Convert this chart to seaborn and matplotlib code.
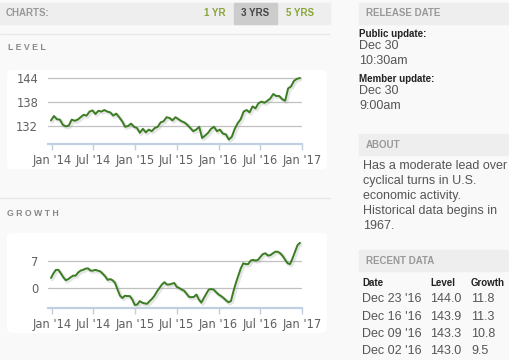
import pandas as pd
import matplotlib
matplotlib.use("Agg")
import matplotlib.pyplot as plt
import matplotlib.patheffects as pe
from matplotlib.patches import Rectangle, FancyBboxPatch
import seaborn as sns

# Level, bi-weekly readings
level = [133.4, 134.5, 133.7, 133.6, 132.3, 131.9, 132.1, 133.6, 133.3, 133.6,
         134.2, 134.8, 134.6, 135.6, 135.9, 135.0, 135.8, 135.6, 136.0, 135.6,
         135.4, 134.6, 135.1, 134.2, 133.2, 131.8, 132.0, 132.6, 131.8, 131.5,
         130.3, 131.3, 130.4, 131.1, 130.7, 131.5, 131.8, 132.9, 133.2, 134.2,
         134.0, 133.4, 134.2, 133.7, 133.2, 132.9, 132.3, 131.5, 130.7, 131.1,
         131.8, 129.0, 129.6, 130.3, 131.3, 131.8, 130.7, 131.1, 130.1, 129.9,
         128.6, 129.3, 131.3, 132.7, 133.7, 135.6, 136.0, 135.4, 136.9, 136.4,
         137.7, 138.1, 137.8, 138.3, 138.9, 140.0, 139.5, 139.5, 138.7, 138.3,
         141.4, 141.9, 143.3, 143.8, 144.0]

# Growth (%)
growth = [2.6, 3.8, 4.7, 4.7, 3.8, 2.8, 2.0, 2.3, 2.8, 3.2,
          3.2, 4.0, 4.5, 4.7, 5.0, 5.1, 4.5, 4.5, 4.7, 4.5,
          4.3, 3.7, 3.0, 2.1, 2.3, 2.0, 1.3, -0.4, -2.0, -2.6,
          -2.0, -2.1, -2.1, -3.0, -4.4, -4.3, -3.4, -3.8, -4.0, -4.1,
          -3.4, -2.8, -2.0, -0.9, 0.0, 0.9, 1.5, 0.9, 0.9, 1.1,
          1.3, 0.3, 0.0, -0.4, -0.7, -1.5, -2.3, -2.4, -2.3, -1.7,
          -3.0, -3.8, -2.6, -1.5, -0.4, -0.3, -0.4, -1.1, -1.7, -2.1,
          -2.6, -3.2, -3.7, -3.4, -0.9, 1.3, 3.2, 5.1, 6.4, 6.2,
          6.2, 7.1, 7.3, 7.1, 7.3, 8.1, 8.8, 9.0, 8.4, 8.5,
          9.0, 9.4, 9.4, 9.0, 8.3, 7.3, 6.4, 6.2, 7.7, 9.4,
          11.1, 11.7]

tick_dates = ["2014-01-01", "2014-07-01", "2015-01-01", "2015-07-01",
              "2016-01-01", "2016-07-01", "2017-01-01"]
tick_labels = ["Jan '14", "Jul '14", "Jan '15", "Jul '15", "Jan '16", "Jul '16", "Jan '17"]

about_lines = ["Has a moderate lead over", "cyclical turns in U.S.",
               "economic activity.", "Historical data begins in", "1967."]
recent_dates = ["Dec 23 '16", "Dec 16 '16", "Dec 09 '16", "Dec 02 '16"]
recent_level = ["144.0", "143.9", "143.3", "143.0"]
recent_growth = ["11.8", "11.3", "10.8", "9.5"]

sns.set_style("white")
plt.rcParams["font.family"] = ["Liberation Sans", "DejaVu Sans"]

W, H = 510, 360
fig = plt.figure(figsize=(W / 100, H / 100), dpi=100, facecolor="#f9f9f9")


def fx(x):
    return x / W


def fy(y):
    return 1 - y / H


def txt(x, y, s, **kw):
    kw.setdefault("va", "center")
    kw.setdefault("ha", "left")
    fig.text(fx(x), fy(y), s, **kw)


def band(x0, y0, x1, y1, color):
    fig.patches.append(Rectangle((fx(x0), fy(y1)), fx(x1) - fx(x0), fy(y0) - fy(y1),
                                 transform=fig.transFigure, color=color, zorder=-2))


def card(x0, y0, x1, y1):
    fig.patches.append(FancyBboxPatch((fx(x0), fy(y1)), fx(x1) - fx(x0), fy(y0) - fy(y1),
                                      boxstyle="round,pad=0,rounding_size=0.012",
                                      transform=fig.transFigure, facecolor="white",
                                      edgecolor="none", zorder=-2))


# header bars
band(0, 3, 330, 24, "#eeeeee")
band(234, 3, 277, 24, "#cccccc")
band(359, 3, 510, 24, "#eeeeee")
band(359, 134, 510, 155, "#eeeeee")
band(359, 250, 510, 271, "#eeeeee")
band(0, 33.6, 330, 34.4, "#e8e8e8")
band(0, 197.6, 330, 198.4, "#e8e8e8")

txt(6, 13.5, "CHARTS:", color="#999999", fontsize=7, fontweight="bold")
txt(215, 13.5, "1 YR", color="#8aa53a", fontsize=7, fontweight="bold", ha="center")
txt(255, 13.5, "3 YRS", color="#444444", fontsize=7, fontweight="bold", ha="center")
txt(300, 13.5, "5 YRS", color="#8aa53a", fontsize=7, fontweight="bold", ha="center")
txt(8, 48, "L E V E L", color="#888888", fontsize=6.3, fontweight="bold")
txt(7, 213, "G R O W T H", color="#888888", fontsize=6.3, fontweight="bold")

# right column
txt(366, 13.5, "RELEASE DATE", color="#999999", fontsize=7, fontweight="bold")
txt(359, 34, "Public update:", color="#222222", fontsize=7, fontweight="bold")
txt(359, 46, "Dec 30", color="#555555", fontsize=9)
txt(359, 61, "10:30am", color="#555555", fontsize=9)
txt(359, 79, "Member update:", color="#222222", fontsize=7, fontweight="bold")
txt(359, 91, "Dec 30", color="#555555", fontsize=9)
txt(359, 106, "9:00am", color="#555555", fontsize=9)

txt(366, 144.5, "ABOUT", color="#999999", fontsize=7, fontweight="bold")
for i, line in enumerate(about_lines):
    txt(363, 166 + 15 * i, line, color="#555555", fontsize=9)

txt(366, 260.5, "RECENT DATA", color="#999999", fontsize=7, fontweight="bold")
txt(362, 283, "Date", color="#222222", fontsize=7, fontweight="bold")
txt(430, 283, "Level", color="#222222", fontsize=7, fontweight="bold")
txt(471, 283, "Growth", color="#222222", fontsize=7, fontweight="bold")
for i in range(len(recent_dates)):
    y = 299.5 + 17.3 * i
    txt(362, y, recent_dates[i], color="#555555", fontsize=9)
    txt(430, y, recent_level[i], color="#555555", fontsize=9)
    txt(471, y, recent_growth[i], color="#555555", fontsize=9)

# chart cards
card(7, 70, 327, 169)
card(7, 233, 327, 333)

xlim = (pd.Timestamp("2013-12-14"), pd.Timestamp("2017-01-01"))
line_color = "#3b7d23"


def draw(ax, dates, values, yticks, ylim):
    sns.lineplot(x=dates, y=values, ax=ax, color=line_color, linewidth=1.4)
    ax.lines[0].set_path_effects([pe.SimpleLineShadow(offset=(1, -1), shadow_color="#aaaaaa",
                                                      alpha=0.3, linewidth=2.6), pe.Normal()])
    ax.set_facecolor("none")
    ax.set_xlim(xlim)
    ax.set_ylim(ylim)
    ax.set_yticks(yticks)
    ax.set_yticklabels([str(v) for v in yticks])
    ax.set_xticks(pd.to_datetime(tick_dates))
    ax.set_xticklabels(tick_labels)
    ax.yaxis.grid(True, color="#c0c0c0", linewidth=0.9)
    ax.xaxis.grid(False)
    for s in ["top", "left", "right"]:
        ax.spines[s].set_visible(False)
    ax.spines["bottom"].set_color("#c0d0e0")
    ax.spines["bottom"].set_linewidth(1.6)
    ax.tick_params(axis="x", length=4.5, width=1, color="#c0d0e0", pad=3,
                   labelsize=8.3, labelcolor="#606060", bottom=True)
    ax.tick_params(axis="y", length=0, pad=7, labelsize=8.3, labelcolor="#606060")
    for lab in ax.get_xticklabels() + ax.get_yticklabels():
        lab.set_fontfamily("DejaVu Sans")
    ax.set_xlabel("")
    ax.set_ylabel("")


level_dates = pd.date_range("2013-12-27", "2016-12-23", periods=len(level))
growth_dates = pd.date_range("2013-12-27", "2016-12-23", periods=len(growth))

ax1 = fig.add_axes([fx(48), fy(144), fx(302) - fx(48), fy(76) - fy(144)])
draw(ax1, level_dates, level, [132, 138, 144], (127.5, 144.5))

ax2 = fig.add_axes([fx(48), fy(308), fx(302) - fx(48), fy(240) - fy(308)])
draw(ax2, growth_dates, growth, [0, 7], (-5.19, 12.44))

fig.savefig("out.png", dpi=100, facecolor=fig.get_facecolor())
